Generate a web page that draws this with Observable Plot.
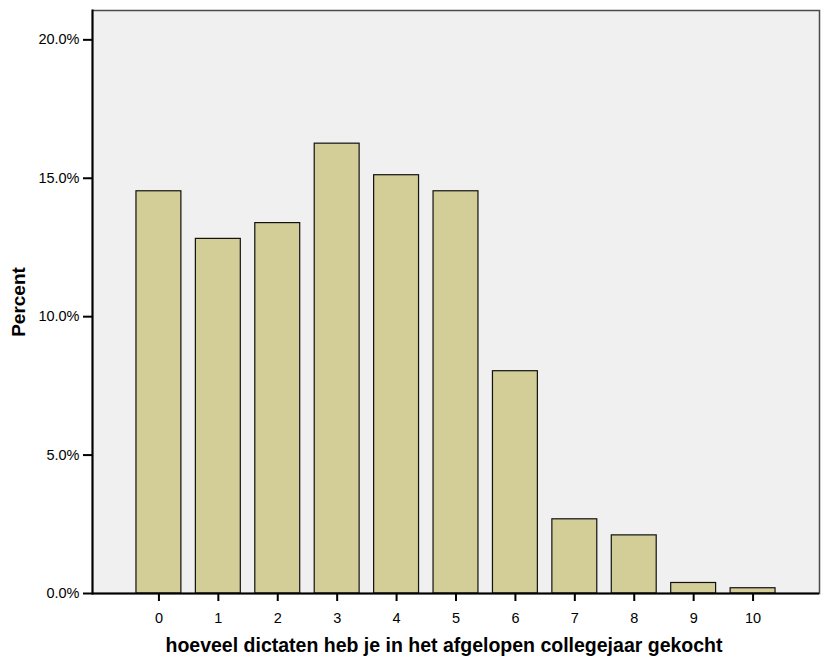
<!DOCTYPE html>
<html>
<head>
<meta charset="utf-8">
<script src="https://cdn.jsdelivr.net/npm/d3@7"></script>
<script src="https://cdn.jsdelivr.net/npm/@observablehq/plot@0.6"></script>
<style>
  html, body { margin: 0; padding: 0; background: #ffffff; }
  #chart { width: 821px; height: 657px; }
  svg { font-family: Arial, "Liberation Sans", sans-serif; }
</style>
</head>
<body>
<div id="chart"></div>
<script>
// Data
const categories = ["0", "1", "2", "3", "4", "5", "6", "7", "8", "9", "10"];
const percents = [14.53, 12.81, 13.38, 16.25, 15.11, 14.53, 8.03, 2.68, 2.10, 0.38, 0.19];
const yTicks = [0, 5, 10, 15, 20];
const xTitle = "hoeveel dictaten heb je in het afgelopen collegejaar gekocht";
const yTitle = "Percent";

const data = categories.map((c, i) => ({category: c, percent: percents[i]}));

const chart = Plot.plot({
  width: 821,
  height: 657,
  marginLeft: 92,
  marginRight: 2,
  marginTop: 10,
  marginBottom: 64,
  style: {background: "#ffffff", fontFamily: "Arial, 'Liberation Sans', sans-serif", color: "#000"},
  x: {type: "band", domain: categories, paddingInner: 0.244, paddingOuter: 0.74, align: 0.5, round: false},
  y: {domain: [0, 21.06]},
  marks: [
    Plot.frame({fill: "#f0f0f0", stroke: "#4a4a4a", strokeWidth: 1.5}),
    Plot.barY(data, {x: "category", y: "percent", fill: "#d3ce97", stroke: "#111", strokeWidth: 1.2}),
    Plot.ruleY([0], {stroke: "#000", strokeWidth: 2}),
    Plot.frame({anchor: "left", stroke: "#000", strokeWidth: 2}),
    Plot.axisY({ticks: yTicks, tickSize: 9, tickPadding: 4, tickFormat: d => d.toFixed(1) + "%", fontSize: 14.5, strokeWidth: 2, label: null}),
    Plot.axisX({tickSize: 8, tickPadding: 11, fontSize: 14.5, strokeWidth: 2, label: null}),
    Plot.text([xTitle], {frameAnchor: "bottom", dy: 52, dx: -12, lineAnchor: "middle", fontSize: 19.5, fontWeight: "bold", fill: "#000"}),
    Plot.text([yTitle], {frameAnchor: "left", dx: -74, rotate: -90, textAnchor: "middle", lineAnchor: "middle", fontSize: 19, fontWeight: "bold", fill: "#000"})
  ]
});
document.getElementById("chart").appendChild(chart);
</script>
</body>
</html>
